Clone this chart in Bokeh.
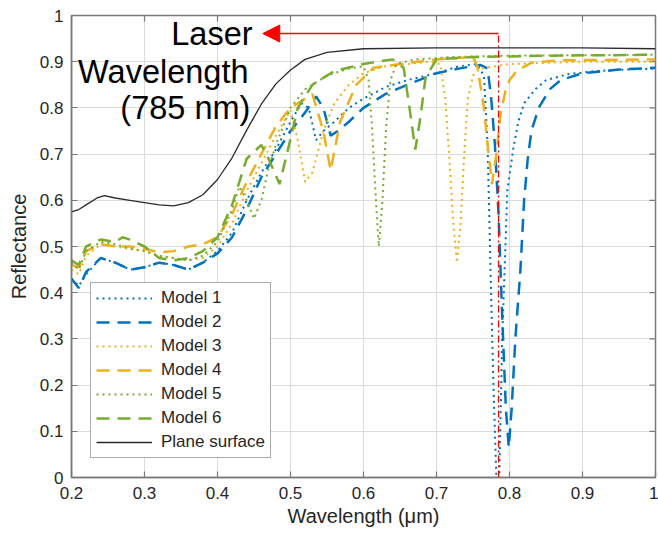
import math
from bokeh.plotting import figure
from bokeh.models import (Range1d, FixedTicker, Legend, LegendItem, Label,
                          Arrow, NormalHead)
from bokeh.embed import file_html
from bokeh.resources import INLINE

# ---------------- data ----------------
M1_X = [0.20, 0.21, 0.22, 0.24, 0.26, 0.28, 0.30, 0.32, 0.34, 0.36, 0.38, 0.40,
        0.42, 0.44, 0.46, 0.48, 0.50, 0.515, 0.525, 0.535, 0.545, 0.56, 0.58,
        0.60, 0.63, 0.66, 0.70, 0.73, 0.755, 0.765, 0.77, 0.774, 0.778, 0.782,
        0.786, 0.79, 0.797, 0.805, 0.812, 0.82, 0.835, 0.85, 0.88, 0.92, 0.96, 1.00]
M1_Y = [0.43, 0.415, 0.44, 0.475, 0.465, 0.45, 0.455, 0.465, 0.46, 0.45, 0.465, 0.49,
        0.53, 0.60, 0.66, 0.71, 0.77, 0.81, 0.80, 0.73, 0.75, 0.77, 0.80,
        0.82, 0.845, 0.86, 0.875, 0.89, 0.895, 0.87, 0.72, 0.45, 0.20, 0.0,
        0.0, 0.30, 0.62, 0.71, 0.77, 0.81, 0.84, 0.86, 0.873, 0.88, 0.883, 0.885]

M2_X = [0.20, 0.21, 0.22, 0.24, 0.26, 0.28, 0.30, 0.32, 0.34, 0.36, 0.38, 0.40,
        0.42, 0.44, 0.46, 0.48, 0.50, 0.52, 0.535, 0.545, 0.555, 0.565, 0.58,
        0.60, 0.63, 0.66, 0.70, 0.73, 0.76, 0.77, 0.775, 0.78, 0.785, 0.79,
        0.795, 0.799, 0.803, 0.808, 0.815, 0.82, 0.825, 0.83, 0.84, 0.855,
        0.87, 0.90, 0.95, 1.00]
M2_Y = [0.43, 0.41, 0.445, 0.475, 0.465, 0.45, 0.455, 0.465, 0.46, 0.45, 0.465, 0.485,
        0.52, 0.58, 0.65, 0.70, 0.75, 0.79, 0.825, 0.80, 0.74, 0.75, 0.77,
        0.80, 0.83, 0.85, 0.875, 0.885, 0.893, 0.885, 0.82, 0.72, 0.57, 0.35,
        0.15, 0.065, 0.15, 0.30, 0.45, 0.60, 0.69, 0.75, 0.80, 0.84,
        0.86, 0.875, 0.883, 0.887]

M3_X = [0.20, 0.21, 0.22, 0.24, 0.26, 0.28, 0.30, 0.32, 0.34, 0.36, 0.38, 0.40,
        0.42, 0.44, 0.46, 0.48, 0.50, 0.51, 0.52, 0.53, 0.545, 0.56, 0.58,
        0.60, 0.63, 0.66, 0.69, 0.705, 0.712, 0.718, 0.723, 0.728, 0.733,
        0.738, 0.743, 0.75, 0.76, 0.80, 0.90, 1.00]
M3_Y = [0.45, 0.44, 0.48, 0.505, 0.50, 0.495, 0.49, 0.48, 0.475, 0.47, 0.475, 0.50,
        0.55, 0.62, 0.68, 0.74, 0.795, 0.73, 0.64, 0.66, 0.75, 0.81, 0.85,
        0.875, 0.89, 0.895, 0.90, 0.895, 0.82, 0.68, 0.55, 0.465, 0.55,
        0.70, 0.82, 0.87, 0.885, 0.895, 0.90, 0.90]

M4_X = [0.20, 0.21, 0.22, 0.24, 0.26, 0.28, 0.30, 0.32, 0.34, 0.36, 0.38, 0.40,
        0.42, 0.44, 0.46, 0.48, 0.50, 0.53, 0.545, 0.555, 0.568, 0.59, 0.614,
        0.65, 0.70, 0.75, 0.756, 0.765, 0.77, 0.776, 0.782, 0.788, 0.795,
        0.80, 0.81, 0.83, 0.87, 1.00]
M4_Y = [0.46, 0.455, 0.49, 0.505, 0.50, 0.50, 0.495, 0.487, 0.49, 0.50, 0.505, 0.52,
        0.57, 0.64, 0.70, 0.76, 0.80, 0.83, 0.75, 0.665, 0.77, 0.85, 0.887,
        0.895, 0.905, 0.91, 0.89, 0.80, 0.72, 0.635, 0.70, 0.79, 0.84,
        0.86, 0.88, 0.898, 0.903, 0.905]

M5_X = [0.20, 0.21, 0.22, 0.24, 0.26, 0.28, 0.30, 0.32, 0.34, 0.36, 0.38, 0.40,
        0.42, 0.43, 0.44, 0.45, 0.46, 0.47, 0.48, 0.50, 0.52, 0.55, 0.58,
        0.60, 0.607, 0.612, 0.617, 0.621, 0.626, 0.631, 0.637, 0.645, 0.67,
        0.72, 0.80, 1.00]
M5_Y = [0.465, 0.45, 0.49, 0.51, 0.505, 0.495, 0.49, 0.48, 0.475, 0.47, 0.48, 0.51,
        0.58, 0.63, 0.60, 0.56, 0.60, 0.67, 0.72, 0.80, 0.84, 0.87, 0.885,
        0.89, 0.86, 0.75, 0.60, 0.50, 0.60, 0.76, 0.86, 0.895, 0.905,
        0.91, 0.913, 0.915]

M6_X = [0.20, 0.21, 0.22, 0.24, 0.26, 0.27, 0.28, 0.30, 0.32, 0.34, 0.36, 0.38,
        0.40, 0.42, 0.44, 0.46, 0.47, 0.485, 0.495, 0.51, 0.53, 0.56, 0.60,
        0.64, 0.655, 0.663, 0.671, 0.678, 0.685, 0.70, 0.75, 0.85, 1.00]
M6_Y = [0.47, 0.46, 0.50, 0.515, 0.51, 0.52, 0.515, 0.50, 0.475, 0.47, 0.475, 0.49,
        0.52, 0.59, 0.69, 0.72, 0.69, 0.635, 0.70, 0.80, 0.85, 0.88, 0.895,
        0.905, 0.887, 0.80, 0.71, 0.78, 0.866, 0.905, 0.91, 0.913, 0.915]

PLANE_X = [0.20, 0.21, 0.22, 0.235, 0.245, 0.26, 0.28, 0.30, 0.32, 0.34, 0.36,
           0.38, 0.40, 0.42, 0.44, 0.46, 0.48, 0.50, 0.52, 0.55, 0.60, 0.70,
           0.80, 0.90, 1.00]
PLANE_Y = [0.575, 0.58, 0.59, 0.605, 0.61, 0.605, 0.60, 0.595, 0.59, 0.588, 0.595,
           0.612, 0.645, 0.692, 0.752, 0.808, 0.852, 0.882, 0.905, 0.92, 0.928, 0.93,
           0.93, 0.93, 0.928]

SERIES_LABELS = ["Model 1", "Model 2", "Model 3", "Model 4", "Model 5",
                 "Model 6", "Plane surface"]

X_TICKS = [0.2, 0.3, 0.4, 0.5, 0.6, 0.7, 0.8, 0.9, 1.0]
X_TICK_LABELS = ["0.2", "0.3", "0.4", "0.5", "0.6", "0.7", "0.8", "0.9", "1"]
Y_TICKS = [0.0, 0.1, 0.2, 0.3, 0.4, 0.5, 0.6, 0.7, 0.8, 0.9, 1.0]
Y_TICK_LABELS = ["0", "0.1", "0.2", "0.3", "0.4", "0.5", "0.6", "0.7", "0.8",
                 "0.9", "1"]
X_MIN, X_MAX = 0.2, 1.0
Y_MIN, Y_MAX = 0.0, 1.0

LASER_UM = 0.785          # 785 nm laser wavelength
ARROW_Y = 0.961
ARROW_TIP_X = 0.462
ANNOT_LINES = ["Laser", "Wavelength", "(785 nm)"]
ANNOT_X = [0.448, 0.4425, 0.445]
ANNOT_Y = [0.961, 0.877, 0.799]

# ---------------- styles ----------------
BLUE = "#0072BD"
YELLOW = "#EDB120"
GREEN = "#77AC30"
FONT = "Liberation Sans"
TXT = "#262626"
AX = "#7a7a7a"

p = figure(width=658, height=537, output_backend="svg", toolbar_location=None,
           x_range=Range1d(X_MIN, X_MAX), y_range=Range1d(Y_MIN, Y_MAX),
           min_border_left=71, min_border_right=3, min_border_top=15,
           min_border_bottom=60)

p.background_fill_color = "white"
p.border_fill_color = "white"
p.outline_line_color = AX
p.outline_line_width = 1.5

p.xaxis.ticker = FixedTicker(ticks=X_TICKS)
p.yaxis.ticker = FixedTicker(ticks=Y_TICKS)
p.xaxis.major_label_overrides = dict(zip(X_TICKS, X_TICK_LABELS))
p.yaxis.major_label_overrides = dict(zip(Y_TICKS, Y_TICK_LABELS))
p.xaxis.axis_label = "Wavelength (μm)"
p.yaxis.axis_label = "Reflectance"
for ax in (p.xaxis, p.yaxis):
    ax.axis_line_color = AX
    ax.axis_line_width = 1.5
    ax.major_tick_line_color = AX
    ax.major_tick_line_width = 1.2
    ax.major_tick_in = 6
    ax.major_tick_out = 0
    ax.minor_tick_line_color = None
    ax.major_label_text_font = FONT
    ax.major_label_text_font_size = "17px"
    ax.major_label_text_color = TXT
    ax.axis_label_text_font = FONT
    ax.axis_label_text_font_size = "20px"
    ax.axis_label_text_font_style = "normal"
    ax.axis_label_text_color = TXT
p.xaxis.major_label_standoff = 9
p.xaxis.axis_label_standoff = 3
p.yaxis.major_label_standoff = 8
p.yaxis.axis_label_standoff = 7

p.grid.grid_line_color = "#dcdcdc"
p.grid.grid_line_width = 1

# box ticks on top and right edges (MATLAB "box on"); half of each
# dash marker is clipped by the frame, leaving an inward tick
p.scatter(X_TICKS, [Y_MAX] * len(X_TICKS), marker="dash", size=12,
          angle=math.pi / 2, line_color=AX, line_width=1.2)
p.scatter([X_MAX] * len(Y_TICKS), Y_TICKS, marker="dash", size=12,
          line_color=AX, line_width=1.2)

DOT = "2 4"
DASH = "13 8"
r1 = p.line(M1_X, M1_Y, line_color=BLUE, line_width=2, line_dash=DOT)
r2 = p.line(M2_X, M2_Y, line_color=BLUE, line_width=2.5, line_dash=DASH)
r3 = p.line(M3_X, M3_Y, line_color=YELLOW, line_width=2, line_dash=DOT)
r4 = p.line(M4_X, M4_Y, line_color=YELLOW, line_width=2.5, line_dash=DASH)
r5 = p.line(M5_X, M5_Y, line_color=GREEN, line_width=2, line_dash=DOT)
r6 = p.line(M6_X, M6_Y, line_color=GREEN, line_width=2.5, line_dash=DASH)
r7 = p.line(PLANE_X, PLANE_Y, line_color="#2b2b2b", line_width=1.3)

# laser marker
p.segment(x0=[LASER_UM], y0=[Y_MIN], x1=[LASER_UM], y1=[ARROW_Y],
          line_color="#ff0000", line_width=1.3, line_dash="7 3 2 3")
p.add_layout(Arrow(end=NormalHead(size=17, fill_color="#ff0000",
                                  line_color="#ff0000"),
                   x_start=LASER_UM, y_start=ARROW_Y, x_end=ARROW_TIP_X,
                   y_end=ARROW_Y, line_color="#ff0000", line_width=1.5))
for t, lx, ly in zip(ANNOT_LINES, ANNOT_X, ANNOT_Y):
    p.add_layout(Label(x=lx, y=ly, text=t, text_align="right",
                       text_baseline="middle", text_font=FONT,
                       text_font_size="32.5px", text_color="black"))

renderers = [r1, r2, r3, r4, r5, r6, r7]
legend = Legend(items=[LegendItem(label=l, renderers=[r])
                       for l, r in zip(SERIES_LABELS, renderers)],
                location=(19, 19))
legend.label_text_font = FONT
legend.label_text_font_size = "17px"
legend.label_text_color = TXT
legend.glyph_width = 56
legend.glyph_height = 20
legend.label_height = 20
legend.spacing = 4
legend.padding = 5
legend.margin = 0
legend.label_standoff = 9
legend.border_line_color = "#555555"
legend.border_line_width = 1.2
legend.background_fill_alpha = 1
p.add_layout(legend)

open("out.html", "w").write(file_html(p, INLINE))
